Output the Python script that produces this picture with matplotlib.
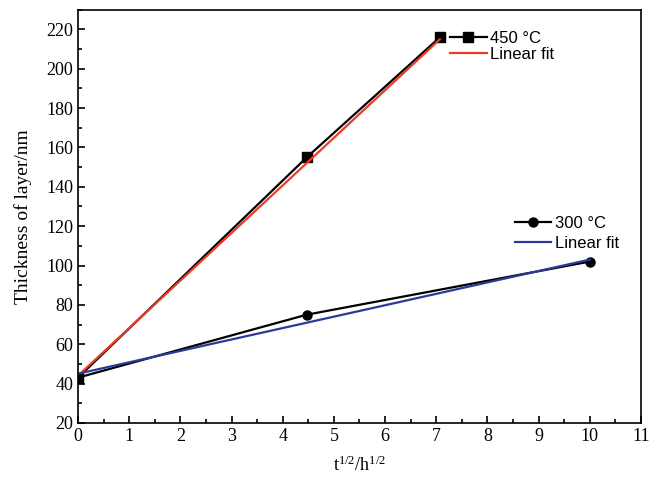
import numpy as np
import matplotlib.pyplot as plt
from matplotlib.ticker import MultipleLocator

# data
x_450 = [0, 4.47, 7.07]
y_450 = [43, 155, 216]
fit_450 = [44, 215]
x_300 = [0, 4.47, 10]
y_300 = [43, 75, 102]
fit_300 = [45, 103]

plt.rcParams['font.family'] = 'Liberation Serif'
plt.rcParams['mathtext.fontset'] = 'custom'
plt.rcParams['mathtext.rm'] = 'Liberation Serif'
plt.rcParams['mathtext.it'] = 'Liberation Serif'

fig = plt.figure(figsize=(6.56, 4.9), dpi=100)
ax = fig.add_axes([0.119, 0.137, 0.858, 0.843])

l1, = ax.plot(x_450, y_450, color='black', marker='s', markersize=6.5, lw=1.6, label='450 °C')
f1, = ax.plot([x_450[0], x_450[-1]], fit_450, color='#ee3a24', lw=1.6, label='Linear fit')
l2, = ax.plot(x_300, y_300, color='black', marker='o', markersize=6.5, lw=1.6, label='300 °C')
f2, = ax.plot([x_300[0], x_300[-1]], fit_300, color='#2b3a9a', lw=1.6, label='Linear fit')

ax.set_xlim(0, 11)
ax.set_ylim(20, 230)
ax.xaxis.set_major_locator(MultipleLocator(1))
ax.xaxis.set_minor_locator(MultipleLocator(0.5))
ax.yaxis.set_major_locator(MultipleLocator(20))
ax.yaxis.set_minor_locator(MultipleLocator(10))
ax.tick_params(which='both', direction='in', labelsize=13, width=1.2)
ax.tick_params(which='major', length=5)
ax.tick_params(which='minor', length=3)
for s in ax.spines.values():
    s.set_linewidth(1.2)

ax.set_xlabel('t$^{1/2}$/h$^{1/2}$', fontsize=13, labelpad=8)
ax.set_ylabel('Thickness of layer/nm', fontsize=14, labelpad=10)

lprop = {'family': 'Liberation Sans', 'size': 12}
leg1 = ax.legend(handles=[l1, f1], loc='upper left', bbox_to_anchor=(0.64, 0.978),
                 frameon=False, prop=lprop,
                 handlelength=2.2, handletextpad=0.2, labelspacing=0.1, borderpad=0.2)
ax.add_artist(leg1)
ax.legend(handles=[l2, f2], loc='upper left', bbox_to_anchor=(0.755, 0.53),
          frameon=False, prop=lprop,
          handlelength=2.2, handletextpad=0.2, labelspacing=0.3, borderpad=0.2)

fig.savefig('out.png', dpi=100)
